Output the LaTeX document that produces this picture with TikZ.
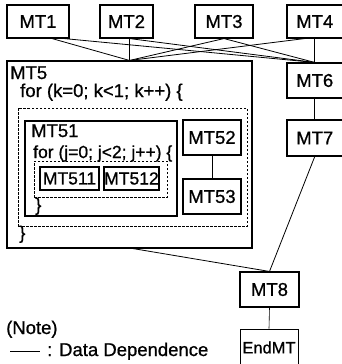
\documentclass[tikz,border=0pt]{standalone}
\usepackage{fontspec}
\setmainfont{Liberation Sans}[FakeBold=0.8]
\begin{document}
\begin{tikzpicture}[x=1pt,y=-1pt, font=\fontsize{18.5}{20}\selectfont,
  box/.style={draw, line width=1.1pt, inner sep=0pt},
  dbox/.style={draw, line width=0.8pt, dash pattern=on 2.5pt off 1.5pt, inner sep=0pt},
  dep/.style={line width=0.8pt},
  lbl/.style={anchor=base west, inner sep=0pt}]
\useasboundingbox (0,0) rectangle (341,364);
% top row
\node[box, minimum width=62pt, minimum height=33pt] (mt1) at (38,21.5) {MT1};
\node[box, minimum width=53pt, minimum height=33pt] (mt2) at (126.5,21.5) {MT2};
\node[box, minimum width=58pt, minimum height=33pt] (mt3) at (224,21.5) {MT3};
\node[box, minimum width=55.5pt, minimum height=33pt] (mt4) at (314.75,21.5) {MT4};
% right column
\node[box, minimum width=55.5pt, minimum height=35pt] (mt6) at (314.75,80.5) {MT6};
\node[box, minimum width=55.5pt, minimum height=36pt] (mt7) at (314.75,138) {MT7};
\node[box, minimum width=59pt, minimum height=35pt] (mt8) at (269.5,289.5) {MT8};
\node[box, line width=0.7pt, minimum width=58pt, minimum height=37pt, font=\fontsize{16.5}{18}\selectfont] (endmt) at (269,347.5) {EndMT};
% MT5 container
\node[box, minimum width=245pt, minimum height=187pt] (mt5) at (129.5,154.5) {};
\node[dbox, minimum width=229pt, minimum height=118pt] (loopk) at (132.5,167) {};
\node[box, minimum width=152pt, minimum height=95pt] (mt51) at (101,168.5) {};
\node[dbox, minimum width=133pt, minimum height=36pt] (loopj) at (100.5,179) {};
\node[box, minimum width=59pt, minimum height=23pt, font=\fontsize{17.5}{19}\selectfont] (mt511) at (69.5,178.5) {MT511};
\node[box, minimum width=55pt, minimum height=23pt, font=\fontsize{17.5}{19}\selectfont] (mt512) at (131.5,178.5) {MT512};
\node[box, minimum width=58pt, minimum height=35pt] (mt52) at (212,137.5) {MT52};
\node[box, minimum width=58pt, minimum height=35pt] (mt53) at (212,196.5) {MT53};
% labels
\node[lbl] (mt5l) at (10,79) {MT5};
\node[lbl] (fork) at (20,97) {for (k=0; k<1; k++) \{};
\node[lbl] (mt51l) at (31,137) {MT51};
\node[lbl, font=\fontsize{17.5}{19}\selectfont] (forj) at (33,158) {for (j=0; j<2; j++) \{};
\node[lbl] (brj) at (35,211) {\}};
\node[lbl] (brk) at (19,239) {\}};
% connectors
\draw[dep] ([xshift=14pt]mt1.south) -- (mt5.north);
\draw[dep] ([xshift=26pt]mt1.south) -- (mt6.north);
\draw[dep] (mt2.south -| mt5.north) -- (mt5.north);
\draw[dep] ([xshift=3pt]mt2.south) -- (mt6.north);
\draw[dep] (mt3.south) -- (mt5.north);
\draw[dep] (mt3.south) -- (mt6.north);
\draw[dep] (mt4.south) -- (mt6.north);
\draw[dep] ([xshift=-10pt]mt4.south) -- (mt5.north);
\draw[dep] (mt6.south) -- (mt7.north);
\draw[dep] (mt7.south) -- (mt8.north);
\draw[dep] ([xshift=3.5pt]mt5.south) -- (mt8.north);
\draw[line width=0.6pt] (mt8.south) -- (endmt.north);
\draw[dep] (mt52.south) -- (mt53.north);
% note
\node[lbl] (note) at (6,334) {(Note)};
\coordinate (la) at (10,351);
\coordinate (lb) at (40,351);
\draw[dep] (la) -- (lb);
\node[lbl] (dd) at (47,356) {: Data Dependence};
\end{tikzpicture}
\end{document}
